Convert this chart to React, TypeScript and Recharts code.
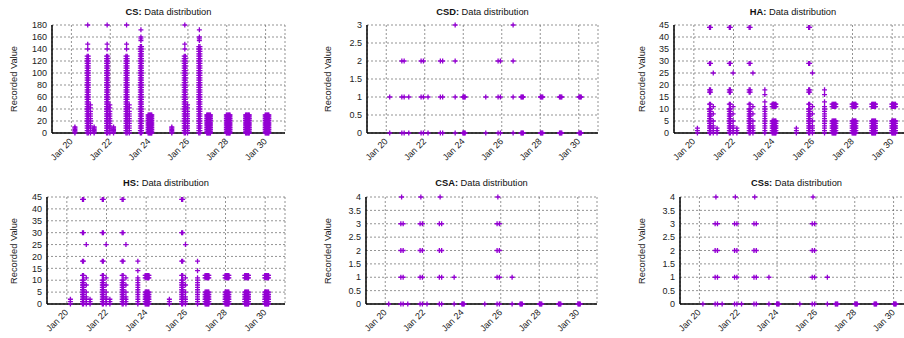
import { ScatterChart, Scatter, XAxis, YAxis, CartesianGrid } from "recharts"

const PURPLE = "#9400d3"
const FONT = "'Liberation Sans', Arial, sans-serif"

// x axis: days of January
const dayTicks = [20, 22, 24, 26, 28, 30]

// collection runs (day of January) shared by all sensors
const shortRuns = [20.18, 21.17, 22.17, 25.17]
const longRuns = [20.84, 21.84, 22.84, 25.84]
const peakRuns = [23.58, 26.59]
const blockRuns = [24.04, 27.06, 28.07, 29.06, 30.07]

// spread of samples inside one run (days)
const single = [0]
const thinSpread = [-0.03, 0.03]
const pairSpread = [-0.03, 0.09]
const sideSpread = [0.14]
const wideBlock = [-0.09, -0.05, -0.01, 0.03, 0.07, 0.1]
const narrowBlock = [-0.06, -0.02, 0.02, 0.06]

// CS
const csTicks = [0, 20, 40, 60, 80, 100, 120, 140, 160, 180]
const csShort = [0, 2, 4, 6, 8, 10]
const csLong = [0, 4, 8, 12, 16, 20, 24, 28, 32, 36, 40, 44, 48, 52, 56, 60, 64, 68, 72, 76, 80, 84, 88, 92, 96, 100, 104, 108, 112, 116, 120, 124, 128]
const csLongSide = [0, 4, 8, 12, 16, 20, 24, 28, 32, 36, 42, 47]
const csLongTop = [140, 148, 180]
const csPeak = [0, 4, 8, 12, 16, 20, 24, 28, 32, 36, 40, 44, 48, 52, 56, 60, 64, 68, 72, 76, 80, 84, 88, 92, 96, 100, 104, 108, 112, 116, 120, 124, 128, 132, 136, 140, 144]
const csPeakTop = [154, 157, 160, 172]
const csBlock = [0, 3, 6, 9, 12, 15, 18, 21, 24, 27, 30]

// CSD
const csdTicks = [0, 0.5, 1, 1.5, 2, 2.5, 3]
const csdShort = [0, 1]
const csdLong = [0, 1, 2]
const csdPeak = [0, 1, 2, 3]
const csdBlock = [0, 1]

// HA
const haTicks = [0, 5, 10, 15, 20, 25, 30, 35, 40, 45]
const haShort = [0, 1, 2]
const haLongMain = [0, 1, 2, 3, 4, 5, 6, 7, 8, 9, 10, 12, 17, 18, 29, 44]
const haLongSide = [0, 1, 2, 3, 5, 8, 11, 25]
const haPeak = [0, 1, 2, 3, 4, 5, 6, 7, 8, 9, 10, 11, 13, 16, 18]
const haBlock = [0, 1, 2, 3, 4, 5, 11, 12]

// HS
const hsTicks = [0, 5, 10, 15, 20, 25, 30, 35, 40, 45]
const hsShort = [0, 1, 2]
const hsLongMain = [0, 1, 2, 3, 4, 5, 6, 7, 8, 9, 10, 12, 18, 30, 44]
const hsLongSide = [0, 1, 2, 3, 5, 8, 11, 25]
const hsPeak = [0, 1, 2, 3, 4, 5, 6, 7, 8, 9, 10, 11, 14, 18]
const hsBlock = [0, 1, 2, 3, 4, 5, 11, 12]

// CSA
const csaTicks = [0, 0.5, 1, 1.5, 2, 2.5, 3, 3.5, 4]
const csaShort = [0]
const csaLong = [0, 1, 2, 3]
const csaLongTop = [4]
const csaPeak = [0, 1]
const csaBlock = [0]

// CSs
const cssTicks = [0, 0.5, 1, 1.5, 2, 2.5, 3, 3.5, 4]
const cssShort = [0]
const cssLong = [0, 1, 2, 3]
const cssLongTop = [4]
const cssPeak = [0, 1]
const cssBlock = [0]

type Cluster = { runs: number[]; spread: number[]; values: number[] }

function toPoints(clusters: Cluster[]) {
  const pts: { t: number; v: number }[] = []
  clusters.forEach((c) =>
    c.runs.forEach((r) =>
      c.spread.forEach((s) => c.values.forEach((v) => pts.push({ t: r + s, v })))
    )
  )
  return pts
}

const panels = [
  {
    name: "CS", ticks: csTicks, left: 0, top: 0, width: 300, height: 169, yWidth: 52, mTop: 25, mRight: 15, xHeight: 36, labelX: 14, titleTop: 6.5,
    clusters: [
      { runs: shortRuns, spread: single, values: csShort },
      { runs: longRuns, spread: thinSpread, values: csLong },
      { runs: longRuns, spread: sideSpread, values: csLongSide },
      { runs: longRuns, spread: single, values: csLongTop },
      { runs: peakRuns, spread: thinSpread, values: csPeak },
      { runs: peakRuns, spread: single, values: csPeakTop },
      { runs: blockRuns, spread: wideBlock, values: csBlock },
    ],
  },
  {
    name: "CSD", ticks: csdTicks, left: 300, top: 0, width: 310, height: 169, yWidth: 67, mTop: 25, mRight: 12, xHeight: 36, labelX: 28, titleTop: 6.5,
    clusters: [
      { runs: shortRuns, spread: single, values: csdShort },
      { runs: longRuns, spread: pairSpread, values: csdLong },
      { runs: peakRuns, spread: single, values: csdPeak },
      { runs: blockRuns, spread: narrowBlock, values: csdBlock },
    ],
  },
  {
    name: "HA", ticks: haTicks, left: 600, top: 0, width: 320, height: 169, yWidth: 74, mTop: 25, mRight: 8, xHeight: 36, labelX: 41.7, titleTop: 6.5,
    clusters: [
      { runs: shortRuns, spread: single, values: haShort },
      { runs: longRuns, spread: [-0.05, 0], values: haLongMain },
      { runs: longRuns, spread: sideSpread, values: haLongSide },
      { runs: peakRuns, spread: single, values: haPeak },
      { runs: blockRuns, spread: wideBlock, values: haBlock },
    ],
  },
  {
    name: "HS", ticks: hsTicks, left: 0, top: 170, width: 300, height: 168, yWidth: 47, mTop: 27, mRight: 15, xHeight: 34, labelX: 14, titleTop: 7.5,
    clusters: [
      { runs: shortRuns, spread: single, values: hsShort },
      { runs: longRuns, spread: [-0.05, 0], values: hsLongMain },
      { runs: longRuns, spread: sideSpread, values: hsLongSide },
      { runs: peakRuns, spread: single, values: hsPeak },
      { runs: blockRuns, spread: wideBlock, values: hsBlock },
    ],
  },
  {
    name: "CSA", ticks: csaTicks, left: 300, top: 170, width: 310, height: 168, yWidth: 66, mTop: 27, mRight: 13, xHeight: 34, labelX: 28, titleTop: 7.5,
    clusters: [
      { runs: shortRuns, spread: single, values: csaShort },
      { runs: longRuns, spread: pairSpread, values: csaLong },
      { runs: longRuns, spread: [0.01], values: csaLongTop },
      { runs: peakRuns, spread: single, values: csaPeak },
      { runs: blockRuns, spread: narrowBlock, values: csaBlock },
    ],
  },
  {
    name: "CSs", ticks: cssTicks, left: 600, top: 170, width: 320, height: 168, yWidth: 80, mTop: 27, mRight: 7, xHeight: 34, labelX: 41.7, titleTop: 7.5,
    clusters: [
      { runs: shortRuns, spread: single, values: cssShort },
      { runs: longRuns, spread: pairSpread, values: cssLong },
      { runs: longRuns, spread: [0.01], values: cssLongTop },
      { runs: peakRuns, spread: single, values: cssPeak },
      { runs: blockRuns, spread: narrowBlock, values: cssBlock },
    ],
  },
]

const Plus = (props: any) => {
  const { cx, cy } = props
  if (cx == null || cy == null) return null
  return (
    <path
      d={`M${cx - 2.5},${cy}h5M${cx},${cy - 2.5}v5`}
      stroke={PURPLE}
      strokeWidth={1.3}
      fill="none"
    />
  )
}

const DayTick = (props: any) => {
  const { x, y, payload } = props
  const tx = x + 2
  const ty = y + 9
  return (
    <text
      x={tx}
      y={ty}
      transform={`rotate(-45 ${tx} ${ty})`}
      textAnchor="end"
      fontSize={9}
      fontFamily={FONT}
      fill="#222"
    >
      Jan {payload.value}
    </text>
  )
}

function Panel({ p }: { p: (typeof panels)[number] }) {
  const data = toPoints(p.clusters)
  const yMax = p.ticks[p.ticks.length - 1]
  const plotW = p.width - p.yWidth - p.mRight
  const plotH = p.height - p.mTop - p.xHeight
  const centerX = p.left + p.yWidth + plotW / 2
  const border = { stroke: "#000", strokeWidth: 1.5 }
  return (
    <>
      <div
        style={{
          position: "absolute",
          left: centerX - 100,
          top: p.top + p.titleTop,
          width: 200,
          textAlign: "center",
          fontSize: 9.3,
          lineHeight: "10px",
          color: "#111",
          whiteSpace: "nowrap",
        }}
      >
        <b>{p.name}:</b> Data distribution
      </div>
      <div
        style={{
          position: "absolute",
          left: p.left + p.labelX - 60,
          top: p.top + p.mTop + plotH / 2 - 5,
          width: 120,
          height: 10,
          lineHeight: "10px",
          textAlign: "center",
          fontSize: 9.3,
          color: "#222",
          transform: "rotate(-90deg)",
          whiteSpace: "nowrap",
        }}
      >
        Recorded Value
      </div>
      <div style={{ position: "absolute", left: p.left, top: p.top }}>
        <ScatterChart
          width={p.width}
          height={p.height}
          margin={{ top: p.mTop, right: p.mRight, bottom: 0, left: 0 }}
        >
          <CartesianGrid stroke="#666" strokeDasharray="2 2" strokeWidth={0.7} />
          <XAxis
            type="number"
            dataKey="t"
            domain={[19, 31]}
            ticks={dayTicks}
            interval={0}
            height={p.xHeight}
            tickLine={false}
            tickSize={0}
            tickMargin={0}
            axisLine={border}
            tick={<DayTick />}
          />
          <YAxis
            type="number"
            dataKey="v"
            domain={[0, yMax]}
            ticks={p.ticks}
            interval={0}
            width={p.yWidth}
            tickLine={false}
            tickSize={0}
            tickMargin={5}
            axisLine={border}
            tick={{ fontSize: 9, fill: "#222", fontFamily: FONT }}
          />
          <XAxis
            xAxisId="top"
            orientation="top"
            type="number"
            domain={[0, 1]}
            height={0}
            tick={false}
            tickLine={false}
            axisLine={border}
          />
          <YAxis
            yAxisId="right"
            orientation="right"
            type="number"
            domain={[0, 1]}
            width={0}
            tick={false}
            tickLine={false}
            axisLine={border}
          />
          <Scatter
            data={data}
            shape={<Plus />}
            isAnimationActive={false}
            {...({ zIndex: 1000 } as any)}
          />
        </ScatterChart>
      </div>
    </>
  )
}

export default function App() {
  return (
    <div
      style={{
        position: "absolute",
        left: 0,
        top: 0,
        width: 904,
        height: 338,
        overflow: "hidden",
        background: "#fff",
        fontFamily: FONT,
      }}
    >
      {panels.map((p) => (
        <Panel key={p.name} p={p} />
      ))}
    </div>
  )
}
